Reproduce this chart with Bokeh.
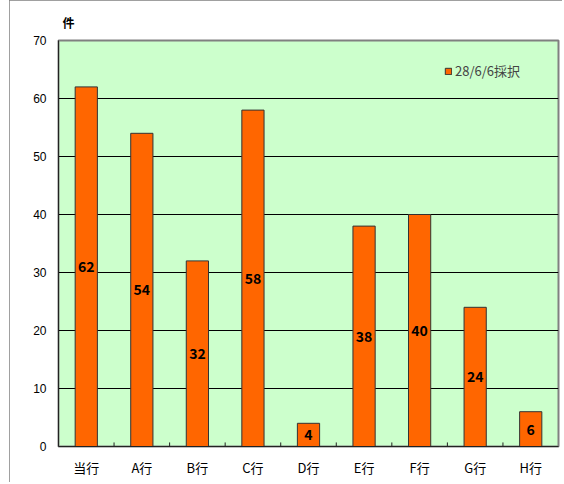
from bokeh.plotting import figure
from bokeh.models import (ColumnDataSource, FactorRange, Range1d, Legend, LegendItem,
                          LabelSet, Title, SingleIntervalTicker)
from bokeh.core.properties import value
from bokeh.embed import file_html
from bokeh.resources import INLINE

categories = ["当行", "A行", "B行", "C行", "D行", "E行", "F行", "G行", "H行"]
counts = [62, 54, 32, 58, 4, 38, 40, 24, 6]
series_name = "28/6/6採択"
y_unit = "件"

src = ColumnDataSource(dict(
    cat=categories,
    val=counts,
    mid=[v / 2 for v in counts],
    lbl=[str(v) for v in counts],
))

p = figure(width=553, height=482, x_range=FactorRange(*categories, range_padding=0),
           y_range=Range1d(0, 70), output_backend="svg", toolbar_location=None,
           min_border_left=49, min_border_right=4, min_border_top=40, min_border_bottom=36)
p.styles = {"margin-left": "9px", "outline": "2px solid #808080", "outline-offset": "-2px"}

p.background_fill_color = "#CCFFCC"
p.border_fill_color = "white"
p.outline_line_color = "#808080"
p.outline_line_width = 2

r = p.vbar(x="cat", top="val", width=0.4, source=src, fill_color="#FF6600",
           line_color="#333333", line_width=1)

labels = LabelSet(x="cat", y="mid", text="lbl", source=src, text_align="center",
                  text_baseline="middle", text_font=value("Noto Sans CJK JP"),
                  text_font_style="bold", text_font_size="14px", text_color="black")
p.add_layout(labels)

# axes
p.yaxis.ticker = SingleIntervalTicker(interval=10)
p.yaxis.major_tick_out = 0
p.yaxis.major_tick_in = 0
p.yaxis.minor_tick_out = 0
p.yaxis.minor_tick_in = 0
p.yaxis.axis_line_color = "#222222"
p.yaxis.major_label_text_font = "Liberation Sans"
p.yaxis.major_label_text_font_size = "12px"
p.yaxis.major_label_text_color = "black"
p.yaxis.major_label_standoff = 12

p.xaxis.major_tick_out = 0
p.xaxis.major_tick_in = 0
p.xaxis.axis_line_color = "#222222"
p.xaxis.major_label_text_font = "Noto Sans CJK JP"
p.xaxis.major_label_text_font_size = "13px"
p.xaxis.major_label_text_color = "black"
p.xaxis.major_label_standoff = 11

p.xgrid.grid_line_color = None
p.ygrid.grid_line_color = "black"
p.ygrid.grid_line_alpha = 1.0
p.ygrid.grid_line_width = 1

# boundary ticks between categories (inside, pointing up)
bx = [(c, -0.5) for c in categories[1:]]
p.segment(x0=bx, x1=bx, y0=[0] * len(bx), y1=[0.7] * len(bx), line_color="#222222", line_width=1)

# unit title
t = Title(text=y_unit, align="left", offset=4, text_font="Noto Sans CJK JP",
          text_font_size="12px", text_font_style="bold", text_color="black", standoff=20)
p.add_layout(t, "above")

legend = Legend(items=[LegendItem(label=series_name, renderers=[r])],
                location=(386, 366), background_fill_alpha=0, border_line_color=None,
                padding=0, margin=0, glyph_width=8, glyph_height=8, label_standoff=3,
                label_text_font="Noto Sans CJK JP", label_text_font_size="13px",
                label_height=14)
p.add_layout(legend)

open("out.html", "w").write(file_html(p, INLINE))
